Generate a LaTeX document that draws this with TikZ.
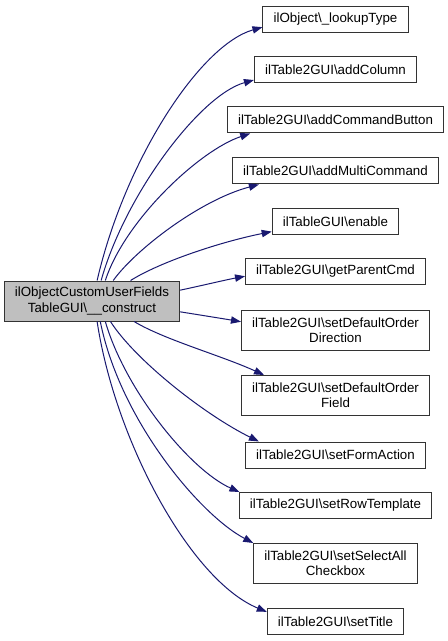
\documentclass[tikz,border=0pt]{standalone}
\usepackage{fontspec}
\setmainfont{Liberation Sans}
\usetikzlibrary{arrows.meta}

\definecolor{edgeblue}{RGB}{25,25,112}
\definecolor{srcgray}{RGB}{191,191,191}

\begin{document}
\begin{tikzpicture}[x=0.75pt, y=-0.75pt,
    fn/.style={draw=black!80, line width=0.75pt, fill=white, inner xsep=8pt, inner ysep=2pt,
        minimum height=19.5pt, align=center, font=\fontsize{10}{11.5}\selectfont},
    fntwo/.style={fn, minimum height=30pt},
    call/.style={-{Triangle[length=7.5pt,width=5.5pt]}, edgeblue, line width=0.75pt}]
    \fill[white] (0,0) rectangle (448,641);
    \useasboundingbox (0,0) rectangle (448,641);
    % volajici funkce
    \node[fntwo, fill=srcgray] (src) at (92,301) {ilObjectCustomUserFields\\TableGUI\textbackslash\_\_construct};
    % volane funkce
    \node[fn] (lookup) at (335.5,19.5) {ilObject\textbackslash\_lookupType};
    \node[fn] (addcol) at (335.5,70) {ilTable2GUI\textbackslash addColumn};
    \node[fn] (addcmdbtn) at (335.5,120) {ilTable2GUI\textbackslash addCommandButton};
    \node[fn] (addmulti) at (335.5,171) {ilTable2GUI\textbackslash addMultiCommand};
    \node[fn] (enable) at (335.5,221.5) {ilTableGUI\textbackslash enable};
    \node[fn] (parentcmd) at (335.5,271.5) {ilTable2GUI\textbackslash getParentCmd};
    \node[fntwo] (orderdir) at (335.5,330) {ilTable2GUI\textbackslash setDefaultOrder\\Direction};
    \node[fntwo] (orderfield) at (335.5,395.5) {ilTable2GUI\textbackslash setDefaultOrder\\Field};
    \node[fn] (formaction) at (335.5,455) {ilTable2GUI\textbackslash setFormAction};
    \node[fn] (rowtpl) at (335.5,505.5) {ilTable2GUI\textbackslash setRowTemplate};
    \node[fntwo] (selectall) at (335.5,563.5) {ilTable2GUI\textbackslash setSelectAll\\Checkbox};
    \node[fn] (title) at (335.5,621.5) {ilTable2GUI\textbackslash setTitle};
    % hrany
    \draw[call] (src.76) .. controls (125,160) and (200,45) .. (lookup.186);
    \draw[call] (src.66) .. controls (125,195) and (200,95) .. (addcol.187);
    \draw[call] (src.57) .. controls (125,220) and (200,150) .. (addcmdbtn.189);
    \draw[call] (src.44) .. controls (135,250) and (200,200) .. (addmulti.190);
    \draw[call] (src.28) .. controls (160,262) and (220,242) .. (enable.189);
    \draw[call] (src.7) .. controls (200,286) and (225,280) .. (parentcmd.183);
    \draw[call] (src.-7) .. controls (200,315) and (225,319) .. (orderdir.175);
    \draw[call] (src.-26) .. controls (165,340) and (220,355) .. (orderfield.164);
    \draw[call] (src.-48) .. controls (135,360) and (205,415) .. (formaction.170);
    \draw[call] (src.-57) .. controls (125,390) and (190,470) .. (rowtpl.172);
    \draw[call] (src.-68) .. controls (120,420) and (200,515) .. (selectall.166);
    \draw[call] (src.-76) .. controls (115,440) and (190,580) .. (title.172);
\end{tikzpicture}
\end{document}
